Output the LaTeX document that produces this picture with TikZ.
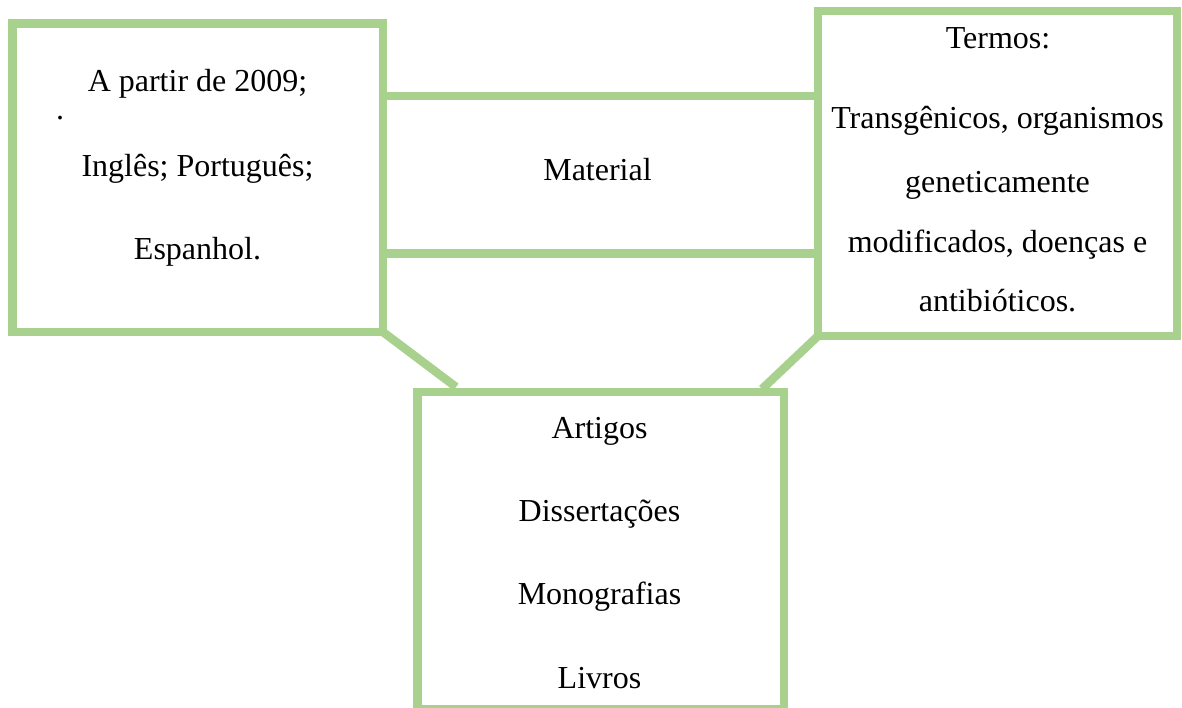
\documentclass[tikz,border=0pt]{standalone}
\usepackage{fontspec}
\setmainfont{Liberation Serif}
\definecolor{lgreen}{HTML}{A9D18E}
\begin{document}
\begin{tikzpicture}[x=1pt,y=-1pt,
  frame/.style={draw=lgreen,line width=8.5pt,inner sep=0pt,outer sep=0pt},
  link/.style={draw=lgreen,line width=8.5pt},
  txt/.style={anchor=base,inner sep=0pt,font=\fontsize{32}{38}\selectfont}]
\useasboundingbox (0,0) rectangle (1182,707);
\begin{scope}
\clip (0,0) rectangle (1182,707);
% boxes
\node[frame,minimum width=370.5pt,minimum height=308.5pt] (left) at (197.75,177.75) {};
\node[frame,minimum width=359pt,minimum height=325pt] (right) at (997.5,173.5) {};
\node[frame,minimum width=366.5pt,minimum height=317pt] (bottom) at (600.75,550.5) {};
\node[inner sep=0pt,outer sep=0pt,minimum width=435pt,minimum height=157.5pt] (mid) at (600.5,174.75) {};
\draw[link] (mid.north west) -- (mid.north east);
\draw[link] (mid.south west) -- (mid.south east);
% diagonal connectors
\coordinate (dl) at (456,387);
\coordinate (dr) at (762,389);
\draw[link] (left.south east) -- (dl);
\draw[link] (right.south west) -- (dr);
\end{scope}
% texts
\node[txt] (l1) at (197.5,91) {A partir de 2009;};
\node[txt] (ldot) at (60,119) {.};
\node[txt] (l2) at (197.5,176) {Inglês; Português;};
\node[txt] (l3) at (197.5,259) {Espanhol.};
\node[txt] (m1) at (597.5,180) {Material};
\node[txt] (r1) at (998,48) {Termos:};
\node[txt] (r2) at (997.5,128) {Transgênicos, organismos};
\node[txt] (r3) at (997.5,192) {geneticamente};
\node[txt] (r4) at (997.5,252) {modificados, doenças e};
\node[txt] (r5) at (997.5,311) {antibióticos.};
\node[txt] (b1) at (599.5,438) {Artigos};
\node[txt] (b2) at (599.5,521) {Dissertações};
\node[txt] (b3) at (599.5,604) {Monografias};
\node[txt] (b4) at (599.5,688) {Livros};
\end{tikzpicture}
\end{document}
